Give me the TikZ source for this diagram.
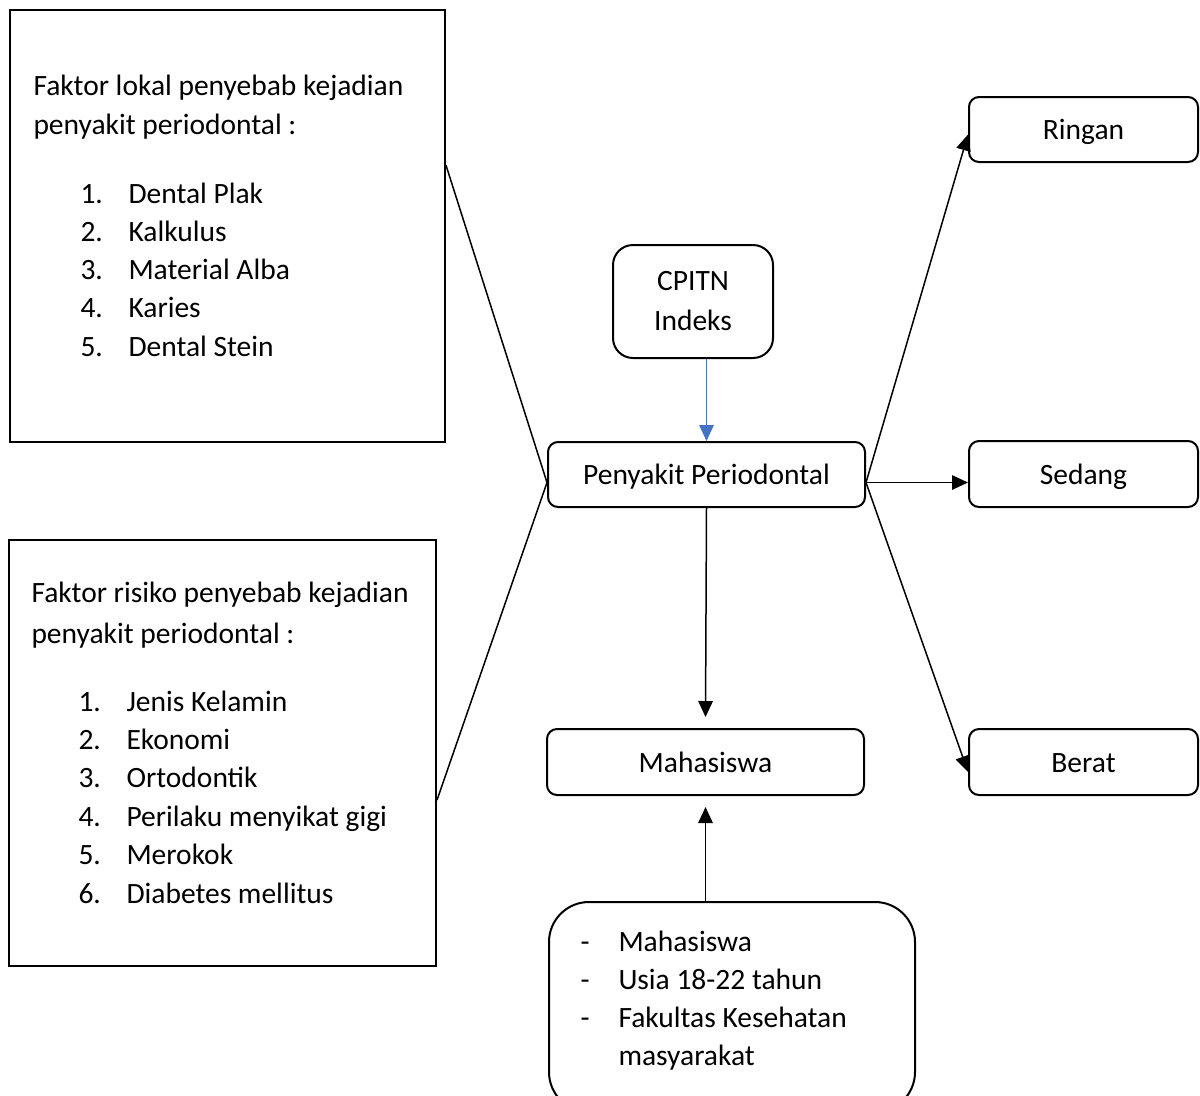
\documentclass[tikz,border=0pt]{standalone}
\usepackage{fontspec}
\setmainfont{Carlito}
\usetikzlibrary{arrows.meta,calc,fit,positioning}

\tikzset{
  sqbox/.style={draw,line width=0.8pt,inner sep=0pt},
  rbox/.style={draw,line width=0.8pt,rounded corners=4pt,inner sep=0pt,align=center},
  lbl/.style={rbox,text height=9.4pt,text depth=1.4pt},
  txt/.style={anchor=base west,inner sep=0pt},
  link/.style={line width=0.6pt},
  arr/.style={line width=0.6pt,-{Triangle[length=6.4pt,width=5.8pt]}},
}

\begin{document}
\begin{tikzpicture}[x=0.4pt,y=-0.4pt,font=\fontsize{11.8}{16}\selectfont]
  \useasboundingbox (0,0) rectangle (1200,1095);
  \clip (0,0) rectangle (1200,1095);

  % left boxes
  \node[sqbox,fit={(10,10) (445,442)}] (lokal) {};
  \node[txt] (lokalh1) at (33,95) {Faktor lokal penyebab kejadian};
  \node[txt] (lokalh2) at (33,134) {penyakit periodontal :};
  \foreach \t [count=\i] in {Dental Plak,Kalkulus,Material Alba,Karies,Dental Stein}
  {
    \node[txt] (ln\i) at (80,164.75+38.25*\i) {\i.};
    \node[txt] (lt\i) at (128,164.75+38.25*\i) {\t};
  }

  \node[sqbox,fit={(9,540) (436,966)}] (risiko) {};
  \node[txt] (risikoh1) at (31,602) {Faktor risiko penyebab kejadian};
  \node[txt] (risikoh2) at (31,643) {penyakit periodontal :};
  \foreach \t [count=\i] in {Jenis Kelamin,Ekonomi,Ortodontik,Perilaku menyikat gigi,Merokok,Diabetes mellitus}
  {
    \node[txt] (rn\i) at (78,672.6+38.4*\i) {\i.};
    \node[txt] (rt\i) at (126,672.6+38.4*\i) {\t};
  }

  % middle
  \node[rbox,rounded corners=8pt,minimum width=64pt,minimum height=45.2pt] (cpitn) at (693,301.5) {CPITN\\Indeks};
  \node[lbl,minimum width=126.8pt,minimum height=26pt] (penyakit) at (706.5,474.5) {Penyakit Periodontal};
  \node[lbl,minimum width=126.8pt,minimum height=26.4pt] (mhs) at (705.5,762) {Mahasiswa};
  \node[rbox,rounded corners=16pt,fit={(549,902) (915,1112)}] (info) {};
  \foreach \t [count=\i] in {Mahasiswa,Usia 18-22 tahun,Fakultas Kesehatan}
  {
    \node[txt] (id\i) at (580,913+38*\i) {-};
    \node[txt] (it\i) at (618,913+38*\i) {\t};
  }
  \node[txt] (it4) at (618,1065) {masyarakat};

  % right
  \node[lbl,minimum width=91.6pt,minimum height=26pt] (ringan) at (1083.5,129.5) {Ringan};
  \node[lbl,minimum width=91.6pt,minimum height=26.4pt] (sedang) at (1083.5,474) {Sedang};
  \node[lbl,minimum width=91.6pt,minimum height=26.4pt] (berat) at (1083.5,762) {Berat};

  \coordinate (pl) at ($(penyakit.west)+(0,8)$);
  \coordinate (pr) at ($(penyakit.east)+(0,8)$);

  % connectors
  \draw[link] ($(lokal.north east)!.36!(lokal.south east)$) -- (pl);
  \draw[link] ($(risiko.north east)!.61!(risiko.south east)$) -- (pl);
  \draw[arr,draw={rgb,255:red,68;green,114;blue,196},fill={rgb,255:red,68;green,114;blue,196}]
    (penyakit.north |- cpitn.south) -- (penyakit.north);
  \draw[arr] (pr) -- ($(ringan.west)+(0,5)$);
  \draw[arr] (pr) -- (pr -| sedang.west);
  \draw[arr] (pr) -- ($(berat.west)+(0,10)$);
  \draw[arr] (penyakit.south) -- ($(mhs.north)+(0,-11)$);
  \draw[arr] (mhs.south |- info.north) -- ($(mhs.south)+(0,11)$);
\end{tikzpicture}
\end{document}
